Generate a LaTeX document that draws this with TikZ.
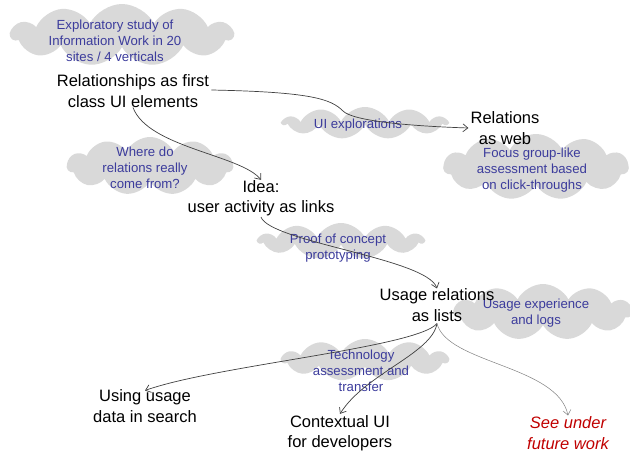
\documentclass[tikz,border=0pt]{standalone}
\usepackage{fontspec}
\setmainfont{Liberation Sans}
\usetikzlibrary{shapes.symbols,arrows.meta}
\definecolor{cloudgray}{HTML}{D9D9D9}
\definecolor{noteblue}{HTML}{3C3C9C}
\definecolor{linegray}{HTML}{404040}
\definecolor{futurered}{HTML}{C00000}
\tikzset{
  cloudbg/.style={cloud, cloud puffs=11, cloud puff arc=125, fill=cloudgray, draw=none, inner sep=0pt},
  note/.style={text=noteblue, align=center, font=\fontsize{13.2}{16}\selectfont, inner sep=1pt},
  topic/.style={text=black, align=center, font=\fontsize{16.5}{20.5}\selectfont, inner sep=2pt},
  arr/.style={draw=linegray, line width=0.7pt, -{Straight Barb[length=5pt,width=8pt]}},
  thinarr/.style={draw=gray, line width=0.5pt, -{Straight Barb[length=5pt,width=8pt]}}
}
\begin{document}
\begin{tikzpicture}[x=1pt,y=-1pt]
\useasboundingbox (0,0) rectangle (630,452);
% clouds
\node[cloudbg, minimum width=222pt, minimum height=62pt] (c1) at (122,35) {};
\node[cloudbg, minimum width=164pt, minimum height=32pt] (c2) at (365,123) {};
\node[cloudbg, minimum width=185pt, minimum height=66pt] (c3) at (536,167) {};
\node[cloudbg, minimum width=166pt, minimum height=58pt] (c4) at (150,166) {};
\node[cloudbg, minimum width=165pt, minimum height=36pt] (c5) at (341,241) {};
\node[cloudbg, minimum width=178pt, minimum height=56pt] (c6) at (543,312) {};
\node[cloudbg, minimum width=166pt, minimum height=42pt] (c7) at (365,360) {};
% notes
\node[note] (n1) at (115,41) {Exploratory study of\\Information Work in 20\\sites / 4 verticals};
\node[note] (n2) at (358,125) {UI explorations};
\node[note] (n3) at (532,170) {Focus group-like\\assessment based\\on click-throughs};
\node[note] (n4) at (145,168) {Where do\\relations really\\come from?};
\node[note] (n5) at (338,248) {Proof of concept\\prototyping};
\node[note] (n6) at (536,313) {Usage experience\\and logs};
\node[note] (n7) at (361,371) {Technology\\assessment and\\transfer};
% topics
\node[topic] (rel) at (133,91) {Relationships as first\\class UI elements};
\node[topic] (web) at (505,128) {Relations\\as web};
\node[topic] (idea) at (261,198) {Idea:\\user activity as links};
\node[topic] (usage) at (437,305) {Usage relations\\as lists};
\node[topic] (search) at (145,406) {Using usage\\data in search};
\node[topic] (ctx) at (340,433) {Contextual UI\\for developers};
\node[topic, text=futurered, font=\fontsize{16.5}{20.5}\selectfont\itshape] (future) at (568,433) {See under\\future work};
% connectors
\coordinate (bend) at (343,111);
\draw[arr] ([yshift=1pt]rel.east) .. controls +(100,2) and +(-12,-12) .. (bend) .. controls +(10,10) and +(-60,-2) .. ([yshift=0pt]web.west);
\draw[arr] ([yshift=2pt]rel.south) .. controls +(15,40) and +(-20,-25) .. ([yshift=-2pt]idea.north);
\draw[arr] ([yshift=1pt]idea.south) .. controls +(10,25) and +(-10,-30) .. ([yshift=-2pt]usage.north);
\draw[arr] (usage.south) .. controls +(-20,24) and +(70,-25) .. ([yshift=-3pt]search.north);
\draw[arr] (usage.south) .. controls +(-5,30) and +(25,-40) .. ([yshift=-1pt]ctx.north);
\draw[thinarr] (usage.south) .. controls +(10,40) and +(-10,-50) .. ([yshift=-1pt]future.north);
\end{tikzpicture}
\end{document}
